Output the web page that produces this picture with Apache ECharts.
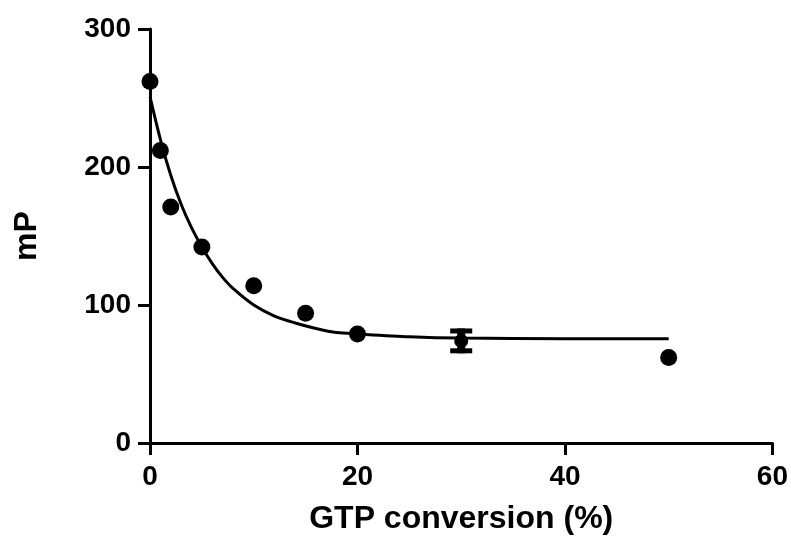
<!DOCTYPE html>
<html>
<head>
<meta charset="utf-8">
<script src="https://cdn.jsdelivr.net/npm/echarts@6/dist/echarts.min.js"></script>
<style>
  html, body { margin: 0; padding: 0; background: #fff; }
  #chart { width: 791px; height: 545px; }
</style>
</head>
<body>
<div id="chart"></div>
<script>
// measured points (GTP conversion %, mP)
var pointX = [0, 1, 2, 5, 10, 15, 20, 30, 50];
var pointY = [262, 212, 171, 142, 114, 94, 79, 74, 62];
// error bar at x = 30
var errX = [30];
var errLow = [65];
var errHigh = [83];
// fitted curve
var curveX = [0, 1, 2, 3, 4, 5, 6, 7, 8, 10, 12, 14, 16, 18, 20, 25, 30, 40, 50];
var curveY = [251, 220, 194, 173, 156, 142, 130, 120, 112, 100, 92, 87, 83, 80, 79, 77, 76, 75.6, 75.5];
var xTicks = [0, 20, 40, 60];
var yTicks = [0, 100, 200, 300];

var dom = echarts.init(document.getElementById("chart"));

var font = "Liberation Sans";
var pts = pointX.map(function(x, i) { return [x, pointY[i]]; });
var curve = curveX.map(function(x, i) { return [x, curveY[i]]; });
var errs = errX.map(function(x, i) { return [x, errLow[i], errHigh[i]]; });

var axisCommon = {
  type: "value",
  splitLine: { show: false },
  axisLine: { show: true, lineStyle: { color: "#000", width: 3 } },
  axisTick: { show: true, length: 12, lineStyle: { color: "#000", width: 3 } },
  axisLabel: { color: "#000", fontFamily: font, fontWeight: "bold", fontSize: 28 },
  nameLocation: "middle",
  nameTextStyle: { color: "#000", fontFamily: font, fontWeight: "bold", fontSize: 32 }
};

var option = {
  animation: false,
  backgroundColor: "#fff",
  grid: { left: 150, right: 18, top: 29, bottom: 102 },
  xAxis: Object.assign({}, axisCommon, {
    min: xTicks[0], max: xTicks[xTicks.length - 1], interval: 20,
    name: "GTP conversion (%)", nameGap: 60,
    axisLabel: Object.assign({}, axisCommon.axisLabel, { margin: 20 })
  }),
  yAxis: Object.assign({}, axisCommon, {
    min: yTicks[0], max: yTicks[yTicks.length - 1], interval: 100,
    name: "mP", nameGap: 107,
    axisLabel: Object.assign({}, axisCommon.axisLabel, { margin: 19 })
  }),
  series: [
    {
      type: "line",
      data: curve,
      smooth: 0.3,
      symbol: "none",
      lineStyle: { color: "#000", width: 3 },
      z: 2
    },
    {
      type: "custom",
      data: errs,
      renderItem: function(params, api) {
        var top = api.coord([api.value(0), api.value(2)]);
        var bot = api.coord([api.value(0), api.value(1)]);
        var hw = 11;
        return {
          type: "group",
          children: [
            { type: "line", shape: { x1: top[0], y1: top[1], x2: bot[0], y2: bot[1] },
              style: { stroke: "#000", lineWidth: 8 } },
            { type: "line", shape: { x1: top[0] - hw, y1: top[1] + 2.5, x2: top[0] + hw, y2: top[1] + 2.5 },
              style: { stroke: "#000", lineWidth: 5 } },
            { type: "line", shape: { x1: bot[0] - hw, y1: bot[1] - 2.5, x2: bot[0] + hw, y2: bot[1] - 2.5 },
              style: { stroke: "#000", lineWidth: 5 } }
          ]
        };
      },
      z: 3
    },
    {
      type: "scatter",
      data: pts,
      symbol: "circle",
      symbolSize: function(v) { return v[0] === 30 ? 14 : 17; },
      itemStyle: { color: "#000", opacity: 1 },
      z: 4
    }
  ]
};

dom.setOption(option);
</script>
</body>
</html>
